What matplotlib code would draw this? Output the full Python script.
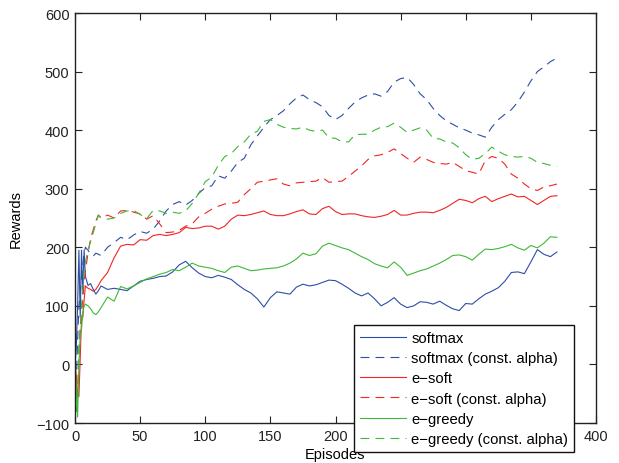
import numpy as np
import matplotlib
matplotlib.use('Agg')
import matplotlib.pyplot as plt

plt.rcParams['font.family'] = ['Liberation Sans', 'DejaVu Sans']

episodes = np.array([0, 1, 2, 3, 4, 5, 6, 7, 8, 10, 12, 14, 16, 18, 20]
                    + list(range(25, 371, 5)))

softmax = [0, 30, 100, 195, 80, 195, 120, 195, 150, 135, 138, 128, 120, 126, 134,
           128, 130, 128, 126, 134, 142, 145, 147, 150, 151,
           158, 170, 176, 165, 156, 150, 148, 152, 149, 145,
           136, 128, 122, 112, 98, 114, 124, 122, 120, 132,
           137, 134, 136, 140, 144, 143, 137, 130, 122, 117,
           122, 112, 100, 106, 114, 103, 97, 100, 107, 106,
           103, 108, 101, 95, 92, 104, 103, 112, 120, 125,
           131, 142, 157, 158, 155, 175, 196, 188, 184, 192]

softmax_const = [0, -30, 40, 100, 120, 150, 170, 190, 200, 195, 188, 185, 190, 188, 186,
                 200, 208, 217, 213, 221, 227, 224, 231, 245, 262,
                 273, 278, 272, 280, 292, 302, 305, 322, 318, 330,
                 345, 352, 375, 390, 405, 418, 425, 433, 445, 455,
                 460, 452, 447, 440, 425, 418, 425, 437, 448, 455,
                 460, 462, 458, 466, 482, 488, 490, 478, 462, 452,
                 437, 425, 416, 410, 404, 400, 395, 392, 388, 405,
                 418, 427, 435, 448, 465, 484, 500, 508, 517, 523]

esoft = [0, -20, -50, -55, 10, 77, 80, 110, 134, 130, 128, 125, 128, 135, 143,
         157, 182, 202, 205, 204, 213, 212, 220, 222, 220,
         222, 225, 234, 232, 233, 236, 236, 231, 236, 248,
         255, 254, 256, 259, 262, 256, 254, 254, 257, 261,
         264, 257, 256, 266, 270, 261, 256, 257, 257, 254,
         252, 251, 253, 256, 263, 255, 255, 258, 260, 260,
         259, 263, 268, 275, 282, 280, 276, 283, 287, 278,
         283, 287, 291, 286, 287, 280, 273, 280, 287, 288]

esoft_const = [0, -40, -55, 20, 60, 90, 110, 140, 160, 190, 215, 230, 245, 255, 250,
               255, 250, 262, 263, 260, 257, 248, 254, 240, 225,
               226, 229, 236, 240, 252, 258, 265, 270, 274, 275,
               277, 290, 300, 311, 313, 315, 317, 308, 305, 310,
               311, 312, 313, 319, 311, 312, 313, 321, 330, 339,
               350, 356, 358, 362, 368, 360, 352, 345, 354, 350,
               345, 343, 342, 345, 338, 331, 328, 325, 348, 355,
               352, 342, 325, 318, 308, 300, 297, 303, 305, 308]

egreedy = [0, -40, -90, 0, 50, 60, 90, 100, 103, 100, 95, 88, 85, 90, 97,
           115, 108, 133, 129, 134, 140, 146, 150, 154, 157,
           162, 160, 166, 173, 168, 166, 164, 160, 157, 166,
           168, 164, 160, 161, 163, 164, 165, 168, 173, 180,
           190, 186, 189, 202, 207, 203, 199, 196, 190, 184,
           179, 172, 168, 165, 175, 166, 152, 156, 160, 163,
           168, 173, 179, 186, 187, 184, 178, 188, 197, 196,
           198, 201, 205, 199, 195, 203, 199, 207, 218, 217]

egreedy_const = [0, -80, -60, 30, 60, 100, 130, 160, 175, 195, 210, 225, 240, 255, 250,
                 248, 250, 258, 262, 263, 256, 249, 263, 262, 258,
                 260, 258, 262, 275, 292, 312, 320, 340, 355, 360,
                 372, 380, 393, 398, 415, 418, 410, 405, 403, 402,
                 405, 400, 398, 400, 387, 386, 380, 380, 392, 393,
                 393, 400, 405, 406, 412, 405, 396, 400, 404, 400,
                 386, 385, 380, 378, 370, 358, 350, 352, 360, 371,
                 364, 358, 355, 354, 355, 352, 345, 343, 340, 338]

labels = ['softmax', 'softmax (const. alpha)', 'e\u2212soft',
          'e\u2212soft (const. alpha)', 'e\u2212greedy', 'e\u2212greedy (const. alpha)']

xticks = list(range(0, 401, 50))
# 250, 300 and 350 are covered by the legend in the original
xticklabels = [str(t) if t not in (250, 300, 350) else '' for t in xticks]
yticks = list(range(-100, 601, 100))

blue = '#2d4ea6'
red = '#f22424'
green = '#3fb837'
dash = (0, (8, 5.5))

fig = plt.figure(figsize=(6.19, 4.64), dpi=100)
ax = fig.add_axes([75/619, 1-424/464, 521/619, 410/464])

ax.plot(episodes, softmax, color=blue, lw=0.8, label=labels[0])
ax.plot(episodes, softmax_const, color=blue, lw=0.8, ls=dash, label=labels[1])
ax.plot(episodes, esoft, color=red, lw=0.8, label=labels[2])
ax.plot(episodes, esoft_const, color=red, lw=0.8, ls=dash, label=labels[3])
ax.plot(episodes, egreedy, color=green, lw=0.8, label=labels[4])
ax.plot(episodes, egreedy_const, color=green, lw=0.8, ls=dash, label=labels[5])

ax.set_xlim(0, 400)
ax.set_ylim(-100, 600)
ax.set_xticks(xticks)
ax.set_xticklabels(xticklabels)
ax.set_yticks(yticks)
ax.set_yticklabels([str(v).replace('-', '\u2212') for v in yticks])
ax.tick_params(direction='in', top=True, right=True, length=5, width=0.8,
               labelsize=10.5, colors='#222222', pad=4)
for s in ax.spines.values():
    s.set_linewidth(1.0)
    s.set_color('#222222')

ax.set_xlabel('Episodes', fontsize=10.5, labelpad=3)
ax.set_ylabel('Rewards', fontsize=10.5, labelpad=10)

# legend sits over the lower right corner, partly below the axes
leg = fig.legend(loc='upper left', bbox_to_anchor=(354/619, 1-326/464),
                 fontsize=10.7, frameon=True, fancybox=False, framealpha=1,
                 edgecolor='#111111', handlelength=3.1, handletextpad=0.35,
                 labelspacing=0.42, borderpad=0.4, borderaxespad=0)
leg.get_frame().set_linewidth(1.0)

fig.savefig('out.png', dpi=100)
